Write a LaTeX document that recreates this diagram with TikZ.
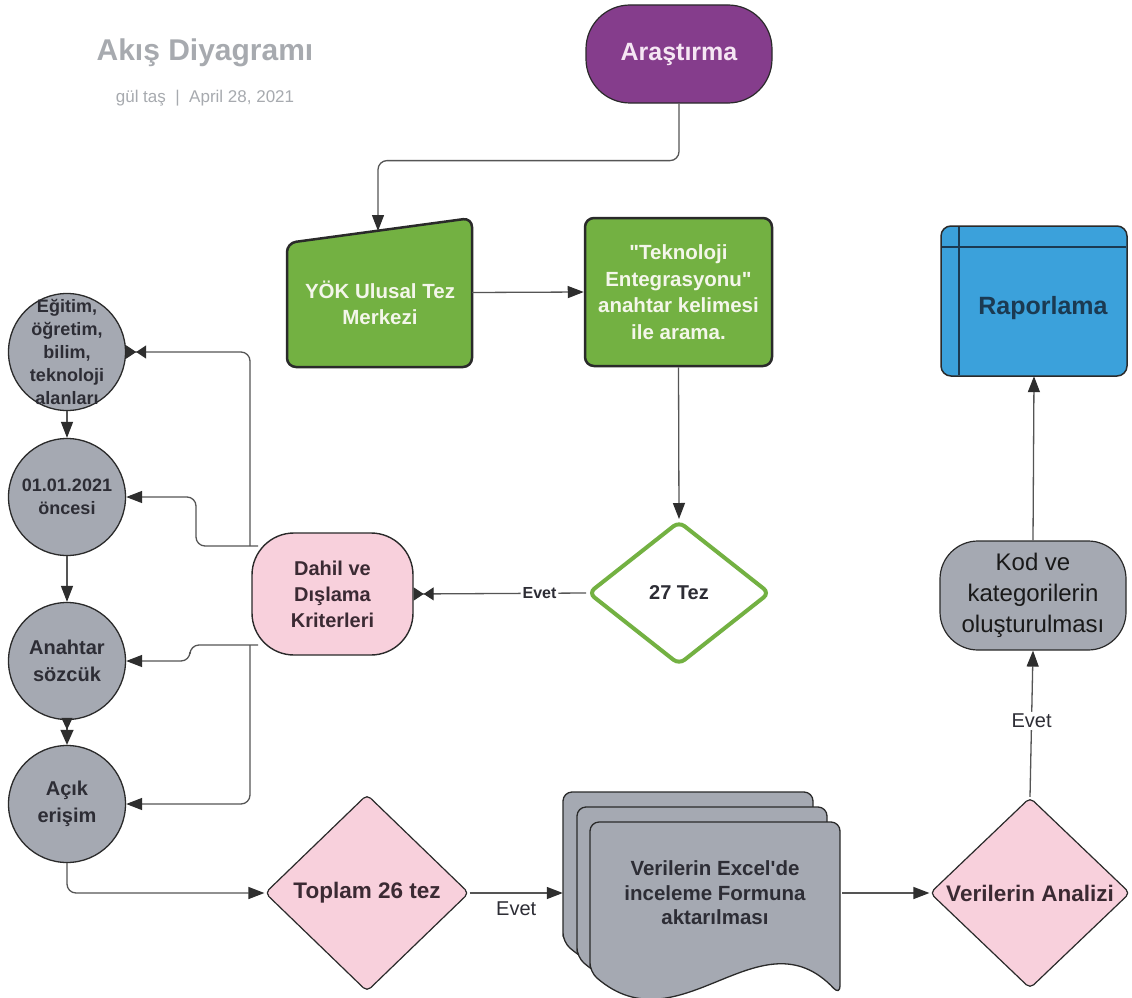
\documentclass[tikz,border=0pt]{standalone}
\usepackage{fontspec}
\setmainfont{Liberation Sans}
\usetikzlibrary{arrows.meta,shapes.geometric}
\definecolor{purpleF}{HTML}{853D8C}
\definecolor{purpleT}{HTML}{F5E6F3}
\definecolor{greenF}{HTML}{73B142}
\definecolor{greenT}{HTML}{F4F6EA}
\definecolor{pinkF}{HTML}{F8D0DC}
\definecolor{grayF}{HTML}{A5A9B2}
\definecolor{blueF}{HTML}{3BA1DB}
\definecolor{blueT}{HTML}{1B3A52}
\definecolor{darkline}{HTML}{2A2A2A}
\definecolor{connc}{HTML}{555555}
\definecolor{arrowc}{HTML}{2E2E2E}
\definecolor{titlegray}{HTML}{A7AAAF}
\definecolor{textdark}{HTML}{2D2D35}
\definecolor{pinktext}{HTML}{3B2A33}
\tikzset{
  conn/.style={draw=connc, line width=1.3pt, rounded corners=9pt},
  tip/.style={-{Triangle[length=16pt,width=12pt,color=arrowc]}},
  bowtip/.style={-{Triangle[length=10pt,width=13pt,color=arrowc] Triangle[reversed,length=10pt,width=13pt,color=arrowc]}},
  dtip/.style={-{Triangle[length=12pt,width=11pt,color=arrowc] Triangle[length=15pt,width=13pt,color=arrowc]}},
  circ/.style={circle, minimum size=117pt, fill=grayF, draw=darkline, line width=1.3pt, inner sep=0pt},
  ctext/.style={align=center, text=textdark, font=\fontsize{18pt}{23pt}\selectfont\bfseries},
  ctextb/.style={align=center, text=textdark, font=\fontsize{20pt}{27pt}\selectfont\bfseries},
  pinkdia/.style={diamond, fill=pinkF, draw=darkline, line width=1.2pt, rounded corners=5pt, inner sep=0pt},
  greenbox/.style={fill=greenF, draw=darkline, line width=2.5pt, rounded corners=9pt},
  anchorbox/.style={rectangle, inner sep=0pt},
  docshape/.style={fill=grayF, draw=darkline, line width=1.3pt, rounded corners=9pt},
}
\begin{document}
\begin{tikzpicture}[x=1pt,y=-1pt]
\useasboundingbox (0,0) rectangle (1132,998);
\fill[white] (0,0) rectangle (1132,998);

% title
\node[font=\fontsize{30pt}{36pt}\selectfont\bfseries, text=titlegray] (title) at (205,53) {Akış Diyagramı};
\node[font=\fontsize{17pt}{20pt}\selectfont, text=titlegray] (subtitle) at (205,98) {gül taş \ | \ April 28, 2021};

% Araştırma
\node[rectangle, rounded corners=44pt, minimum width=186pt, minimum height=98pt,
      fill=purpleF, draw=darkline, line width=1.2pt, text=purpleT,
      font=\fontsize{25pt}{30pt}\selectfont\bfseries] (ara) at (679,54) {Araştırma};

% YÖK
\draw[greenbox] (287,243) -- (472,218) -- (472,367) -- (287,367) -- cycle;
\node[anchorbox, minimum width=185pt, minimum height=149pt] (yok) at (379.5,292.5) {};
\node[align=center, text=greenT, font=\fontsize{20.5pt}{26pt}\selectfont\bfseries] at (380,303) {YÖK Ulusal Tez\\Merkezi};
\coordinate (yoktop) at (378,231);

% keyword box
\node[rectangle, greenbox, minimum width=187pt, minimum height=148pt, align=center,
      text=greenT, font=\fontsize{20.5pt}{26.5pt}\selectfont\bfseries] (kw) at (678.5,292) {\textquotedbl Teknoloji\\Entegrasyonu\textquotedbl\\anahtar kelimesi\\ile arama.};

% 27 Tez
\node[diamond, fill=white, draw=greenF, line width=4pt, rounded corners=7pt, inner sep=0pt,
      minimum width=182pt, minimum height=144pt, text=textdark,
      font=\fontsize{20pt}{24pt}\selectfont\bfseries] (tez) at (679,593) {27 Tez};

% Dahil
\node[rectangle, rounded corners=42pt, minimum width=161pt, minimum height=122pt,
      fill=pinkF, draw=darkline, line width=1.4pt, align=center, text=pinktext,
      font=\fontsize{20pt}{26pt}\selectfont\bfseries] (dah) at (332.5,594) {Dahil ve\\Dışlama\\Kriterleri};

% circles
\node[circ] (c1) at (67,352) {};
\node[ctext] at (67,352) {Eğitim,\\öğretim,\\bilim,\\teknoloji\\alanları};
\node[circ] (c2) at (67,497) {};
\node[ctext] at (67,497) {01.01.2021\\öncesi};
\node[circ] (c3) at (67,661) {};
\node[ctextb] at (67,661) {Anahtar\\sözcük};
\node[circ] (c4) at (67,804) {};
\node[ctextb] at (67,804) {Açık\\erişim};

% Toplam
\node[pinkdia, minimum width=204pt, minimum height=197pt] (top) at (367,893) {};
\node[text=pinktext, font=\fontsize{22.5pt}{26pt}\selectfont\bfseries] at (367,893) {Toplam 26 tez};

% document stack
\foreach \dx/\dy in {-27/-30,-13/-15,0/0}{
  \draw[docshape, shift={(\dx,\dy)}] (590,972) -- (590,822) -- (840,822) -- (840,995)
     .. controls (760,910) and (680,1050) .. (590,972) -- cycle;
}
\node[anchorbox, minimum width=279pt, minimum height=10pt] (doc) at (702.5,893) {};
\node[align=center, text=textdark, font=\fontsize{20.5pt}{24.5pt}\selectfont\bfseries] at (715,893) {Verilerin Excel\textquotesingle de\\inceleme Formuna\\aktarılması};

% Analiz
\node[pinkdia, minimum width=200pt, minimum height=191pt] (ana) at (1030,893) {};
\node[text=pinktext, font=\fontsize{22.5pt}{26pt}\selectfont\bfseries] at (1030,893) {Verilerin Analizi};

% Kod
\node[rectangle, rounded corners=38pt, minimum width=186pt, minimum height=109pt, inner sep=2pt,
      fill=grayF, draw=darkline, line width=1.2pt, align=center, text=black!90,
      font=\fontsize{24pt}{31pt}\selectfont] (kod) at (1033,595.5) {Kod ve\\kategorilerin\\oluşturulması};

% Raporlama
\draw[fill=blueF, draw=darkline, line width=1.5pt, rounded corners=10pt] (941,226) rectangle (1127,376);
\draw[draw=blueT, line width=1.5pt] (959,227) -- (959,375);
\draw[draw=blueT, line width=1.5pt] (942,247) -- (1126,247);
\node[anchorbox, minimum width=186pt, minimum height=150pt] (rap) at (1034,301) {};
\node[text=blueT, font=\fontsize{25pt}{30pt}\selectfont\bfseries] at (1043,308) {Raporlama};

% connectors
\draw[conn, tip] (ara.south) -- ++(0,57) -| (yoktop);
\draw[conn, tip] (yok.east) -- (kw.west);
\draw[conn, tip] (kw.south) -- (tez.north);
\draw[conn, bowtip] (tez.west) -- node[pos=0.27, fill=white, inner sep=2pt, text=textdark,
      font=\fontsize{16pt}{18pt}\selectfont\bfseries] {Evet} (dah.east);

\coordinate (dtl) at (258,546);
\coordinate (dtlv) at (250,546);
\coordinate (dbl) at (258,645);
\coordinate (dblv) at (250,645);
\draw[conn, bowtip] (dtlv) |- (c1.east);
\draw[conn, tip] (dtl) -- (196,546) |- (c2.east);
\draw[conn, tip] (dbl) -- (190,645) |- (c3.east);
\draw[conn, tip] (dblv) |- (c4.east);

\draw[conn, tip] (c1.south) -- (c2.north);
\draw[conn, tip] (c2.south) -- (c3.north);
\draw[conn, dtip] (c3.south) -- (c4.north);
\draw[conn, tip] (c4.south) |- (top.west);

\draw[conn, tip] (top.east) -- node[below=5pt, text=textdark, font=\fontsize{20pt}{24pt}\selectfont] {Evet} (doc.west);
\draw[conn, tip] (doc.east) -- (ana.west);
\draw[conn, tip] (ana.north) -- node[pos=0.52, fill=white, inner sep=2pt, text=textdark,
      font=\fontsize{20pt}{24pt}\selectfont] {Evet} (kod.south);
\draw[conn, tip] (kod.north) -- (rap.south);
\end{tikzpicture}
\end{document}
